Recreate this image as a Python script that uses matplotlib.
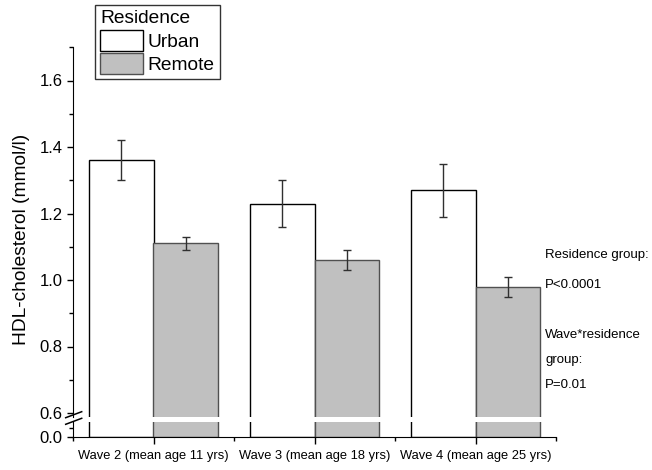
import matplotlib
matplotlib.use("Agg")
import matplotlib.pyplot as plt
import numpy as np
from matplotlib.patches import Patch
from matplotlib.lines import Line2D

plt.rcParams['font.family'] = ['Liberation Sans', 'DejaVu Sans']

waves = ['Wave 2 (mean age 11 yrs)', 'Wave 3 (mean age 18 yrs)', 'Wave 4 (mean age 25 yrs)']
urban = [1.36, 1.23, 1.27]
urban_err = [0.06, 0.07, 0.08]
remote = [1.11, 1.06, 0.98]
remote_err = [0.02, 0.03, 0.03]
notes = ['Residence group:', 'P<0.0001', '', 'Wave*residence', 'group:', 'P=0.01']

W, H = 652, 470
fig = plt.figure(figsize=(W / 100, H / 100), dpi=100)

def fx(px):
    return px / W

def fy(py):
    return 1 - py / H

left, right = 73, 556
ax = fig.add_axes([fx(left), fy(417), fx(right - left), fy(47.25) - fy(417)])
axb = fig.add_axes([fx(left), fy(437), fx(right - left), fy(422) - fy(437)], sharex=ax)

x = np.arange(1, len(waves) + 1)
bw = 0.4
c_urban = 'white'
c_remote = '#c0c0c0'
for a in (ax, axb):
    a.bar(x - bw / 2, urban, bw, color=c_urban, edgecolor='black', linewidth=1.0)
    a.bar(x + bw / 2, remote, bw, color=c_remote, edgecolor='#505050', linewidth=1.0)
ax.errorbar(x - bw / 2, urban, yerr=urban_err, fmt='none', ecolor='#303030',
            elinewidth=1.0, capsize=2.6, capthick=1.0)
ax.errorbar(x + bw / 2, remote, yerr=remote_err, fmt='none', ecolor='#303030',
            elinewidth=1.0, capsize=2.6, capthick=1.0)

ax.set_xlim(0.5, 3.5)
ax.set_ylim(0.6 - 4 / 332.5, 1.7)
axb.set_ylim(0, 0.05)

for a in (ax, axb):
    a.spines['top'].set_visible(False)
    a.spines['right'].set_visible(False)
    a.set_facecolor('none')
ax.spines['bottom'].set_visible(False)

ax.set_yticks([0.6, 0.8, 1.0, 1.2, 1.4, 1.6])
ax.set_yticks(np.arange(0.7, 1.71, 0.2), minor=True)
ax.set_yticklabels(['0.6', '0.8', '1.0', '1.2', '1.4', '1.6'])
ax.tick_params(axis='y', which='major', length=4.5, width=1, labelsize=12, pad=3)
ax.tick_params(axis='y', which='minor', length=3, width=1)
ax.tick_params(axis='x', which='both', bottom=False, labelbottom=False)

axb.set_yticks([0.0])
axb.set_yticklabels(['0.0'])
axb.set_yticks([0.03], minor=True)
axb.tick_params(axis='y', which='major', length=4.5, width=1, labelsize=12, pad=3)
axb.tick_params(axis='y', which='minor', length=3, width=1)
axb.set_xticks(x)
axb.set_xticklabels(waves)
axb.set_xticks([0.5, 1.5, 2.5, 3.5], minor=True)
axb.tick_params(axis='x', which='major', length=5, width=1, labelsize=9.3, pad=4)
axb.tick_params(axis='x', which='minor', length=3.2, width=1)

# axis break marks
for y0 in (417.7, 424.3):
    fig.add_artist(Line2D([fx(65.7), fx(81.7)], [fy(y0), fy(y0 - 6)],
                          transform=fig.transFigure, color='black', lw=1.1))

fig.text(fx(22), fy(239), 'HDL-cholesterol (mmol/l)', rotation=90,
         ha='center', va='center', fontsize=13.8)

ys = [255, 285, 310, 335, 360, 385]
for t, yy in zip(notes, ys):
    if t:
        fig.text(fx(545), fy(yy), t, ha='left', va='center', fontsize=9.5)

handles = [Patch(facecolor=c_urban, edgecolor='black', linewidth=1.0),
           Patch(facecolor=c_remote, edgecolor='#505050', linewidth=1.0)]
leg = ax.legend(handles, ['Urban', 'Remote'], title='Residence', loc='upper left',
                bbox_to_anchor=(fx(95), fy(5)), bbox_transform=fig.transFigure,
                fontsize=13.8, title_fontsize=13.8, frameon=True, fancybox=False,
                edgecolor='black', borderpad=0.28, borderaxespad=0,
                handlelength=2.2, handleheight=1.3, handletextpad=0.25,
                labelspacing=0.12)
leg._legend_box.align = 'left'
leg.get_frame().set_linewidth(1.0)

fig.savefig('out.png', dpi=100)
